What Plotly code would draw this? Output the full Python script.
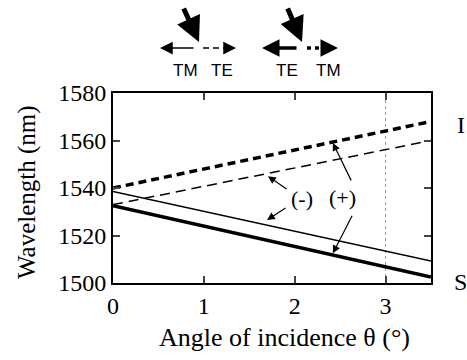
import plotly.graph_objects as go

# Data
x_ends = [0.0, 3.5]
thick_dashed = [1540.0, 1568.0]   # (+) idler
thin_dashed = [1533.0, 1560.0]    # (-) idler
thin_solid = [1538.5, 1509.3]     # (-) signal
thick_solid = [1532.5, 1502.5]    # (+) signal
x_ticks = [0, 1, 2, 3]
y_ticks = [1500, 1520, 1540, 1560, 1580]
x_range = [0, 3.5]
y_range = [1500, 1580]
marker_x = 3.0

SERIF = "Liberation Serif"
SANS = "Liberation Sans"

fig = go.Figure()
fig.add_trace(go.Scatter(x=x_ends, y=thick_dashed, mode="lines",
                         line=dict(color="black", width=3.5, dash="8px,5px")))
fig.add_trace(go.Scatter(x=x_ends, y=thin_dashed, mode="lines",
                         line=dict(color="black", width=1.5, dash="10px,6px")))
fig.add_trace(go.Scatter(x=x_ends, y=thin_solid, mode="lines",
                         line=dict(color="black", width=1.5)))
fig.add_trace(go.Scatter(x=x_ends, y=thick_solid, mode="lines",
                         line=dict(color="black", width=3.5)))

L, R, T, B = 113, 36, 93, 77
W, H = 467, 360
pw, ph = W - L - R, H - T - B


def px(xp):
    return (xp - L) / pw


def py(yp):
    return (H - B - yp) / ph


shapes = [
    dict(type="line", xref="x", yref="paper", x0=marker_x, x1=marker_x, y0=0, y1=1,
         line=dict(color="#999999", width=1, dash="dot"), layer="below"),
    # top schematic dashed lines
    dict(type="line", xref="paper", yref="paper", x0=px(203), x1=px(230), y0=py(48), y1=py(48),
         line=dict(color="black", width=1.5, dash="6px,4px")),
    dict(type="line", xref="paper", yref="paper", x0=px(307), x1=px(331), y0=py(48), y1=py(48),
         line=dict(color="black", width=3.5, dash="4px,4px")),
]

annotations = []


def arrow(tip, tail, width, size, xref="paper", yref="paper"):
    annotations.append(dict(
        x=tip[0], y=tip[1], xref=xref, yref=yref,
        ax=tail[0], ay=tail[1], axref="pixel", ayref="pixel",
        text="", showarrow=True, arrowhead=2, arrowsize=size,
        arrowwidth=width, arrowcolor="black"))


# big incident arrows
arrow((px(199), py(42)), (-16, -35), 5, 1.0)
arrow((px(302), py(42)), (-15, -35), 5, 1.0)
# left group: thin
arrow((px(160), py(48)), (35, 0), 1.5, 1.7)
arrow((px(236), py(48)), (-8, 0), 1.5, 1.7)
# right group: thick
arrow((px(262), py(48)), (36, 0), 3.5, 1.0)
arrow((px(338), py(48)), (-9, 0), 3.5, 1.0)

for txt, cx in [("TM", 185), ("TE", 222), ("TE", 287), ("TM", 328)]:
    annotations.append(dict(x=px(cx), y=py(70), xref="paper", yref="paper",
                            text=txt, showarrow=False, xanchor="center", yanchor="middle",
                            font=dict(family=SANS, size=17, color="black")))

# (-) and (+) labels
annotations.append(dict(x=px(302), y=py(198), xref="paper", yref="paper", text="(-)",
                        showarrow=False, font=dict(family=SERIF, size=22, color="black")))
annotations.append(dict(x=px(358), y=py(197), xref="paper", yref="paper", text="(+)",
                        showarrow=False, font=dict(family=SERIF, size=22, color="black")))
arrow((1.706, 1545.0), (20, 14), 1.2, 1.3, xref="x", yref="y")
arrow((1.695, 1526.5), (20, -13), 1.2, 1.3, xref="x", yref="y")
arrow((2.42, 1559.0), (19, 39), 1.2, 1.3, xref="x", yref="y")
arrow((2.42, 1512.5), (20, -39), 1.2, 1.3, xref="x", yref="y")

# right side labels
annotations.append(dict(x=px(455), y=py(125), xref="paper", yref="paper", text="I",
                        showarrow=False, xanchor="left", yanchor="middle",
                        font=dict(family=SERIF, size=24, color="black")))
annotations.append(dict(x=px(452), y=py(282), xref="paper", yref="paper", text="S",
                        showarrow=False, xanchor="left", yanchor="middle",
                        font=dict(family=SERIF, size=24, color="black")))

# axis titles
annotations.append(dict(x=px(284), y=py(337), xref="paper", yref="paper",
                        text="Angle of incidence θ (°)", showarrow=False,
                        xanchor="center", yanchor="middle",
                        font=dict(family=SERIF, size=26, color="black")))
annotations.append(dict(x=px(27), y=py(192), xref="paper", yref="paper",
                        text="Wavelength (nm)", showarrow=False, textangle=-90,
                        xanchor="center", yanchor="middle",
                        font=dict(family=SERIF, size=25, color="black")))

fig.update_layout(
    width=W, height=H,
    margin=dict(l=L, r=R, t=T, b=B),
    paper_bgcolor="white", plot_bgcolor="white",
    showlegend=False,
    font=dict(family=SERIF, size=24, color="black"),
    shapes=shapes, annotations=annotations,
    xaxis=dict(range=x_range, tickvals=x_ticks, ticks="inside", ticklen=7, tickwidth=1.5,
               showline=True, linewidth=2, linecolor="black", mirror="ticks",
               showgrid=False, zeroline=False,
               tickfont=dict(family=SERIF, size=24, color="black")),
    yaxis=dict(range=y_range, tickvals=y_ticks, ticks="inside", ticklen=7, tickwidth=1.5,
               showline=True, linewidth=2, linecolor="black", mirror="ticks",
               showgrid=False, zeroline=False,
               tickfont=dict(family=SERIF, size=24, color="black")),
)

fig.write_html("out.html")
